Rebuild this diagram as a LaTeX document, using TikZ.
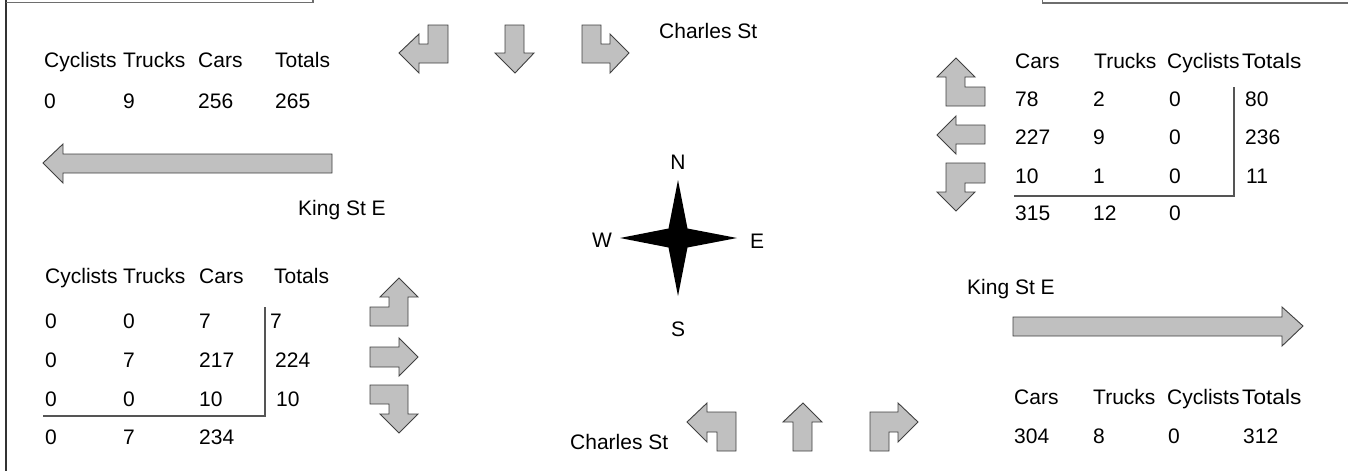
\documentclass[tikz,border=0pt]{standalone}
\usepackage{fontspec}
\setmainfont{Liberation Sans}
\definecolor{arrowgray}{HTML}{C0C0C0}
\definecolor{arrowline}{HTML}{404040}
\definecolor{rulegray}{HTML}{555555}
\definecolor{framegray}{HTML}{6E6E6E}
\definecolor{framedark}{HTML}{333333}
\newcommand{\widetotals}{\scalebox{1.08}[1]{Totals}}
\begin{document}
\begin{tikzpicture}[x=1pt,y=-1pt,
  lbl/.style={anchor=base west,inner sep=0pt,font=\fontsize{21}{25}\selectfont},
  compasslbl/.style={anchor=center,inner sep=0pt,font=\fontsize{21}{25}\selectfont},
  flowarrow/.style={fill=arrowgray,draw=arrowline,line width=0.9pt,line join=miter},
  tablerule/.style={draw=rulegray,line width=1.3pt},
  framerule/.style={draw=framegray,line width=1.5pt}]
\useasboundingbox (0,0) rectangle (1348,471);

% frame pieces
\draw[draw=framedark,line width=2pt] (5.7,0) -- (5.7,471);
\draw[framerule] (5.7,2.5) -- (313,2.5) -- (313,0);
\draw[framerule] (1042.5,0) -- (1042.5,3) -- (1348,3);

% street names
\node[lbl] (charlesN) at (659,38) {Charles St};
\node[lbl] (charlesS) at (570,449) {Charles St};
\node[lbl] (kingW) at (298,215) {King St E};
\node[lbl] (kingE) at (967,294) {King St E};

% north approach: turning movements (southbound)
\draw[flowarrow] (428,25) -- (448,25) -- (448,63) -- (419,63) -- (419,73) -- (399,53) -- (419,34) -- (419,44) -- (428,44) -- cycle;
\draw[flowarrow] (505,25) -- (524,25) -- (524,53) -- (534,53) -- (515,73) -- (495,53) -- (505,53) -- cycle;
\draw[flowarrow] (582,25) -- (601,25) -- (601,44) -- (610,44) -- (610,34) -- (629,53) -- (610,73) -- (610,63) -- (582,63) -- cycle;

% north-west counts
\node[lbl] (nwh1) at (44,67) {Cyclists};
\node[lbl] (nwh2) at (123,67) {Trucks};
\node[lbl] (nwh3) at (198,67) {Cars};
\node[lbl] (nwh4) at (275,67) {Totals};
\node[lbl] (nwd1) at (44,108) {0};
\node[lbl] (nwd2) at (123,108) {9};
\node[lbl] (nwd3) at (198,108) {256};
\node[lbl] (nwd4) at (275,108) {265};

% westbound through flow
\draw[flowarrow] (43,163) -- (63,144) -- (63,154) -- (332,154) -- (332,173) -- (63,173) -- (63,183) -- cycle;

% east approach: turning movements (westbound)
\draw[flowarrow] (956,58) -- (975,77) -- (965,77) -- (965,87) -- (985,87) -- (985,106) -- (946,106) -- (946,77) -- (937,77) -- cycle;
\draw[flowarrow] (937,135) -- (956,116) -- (956,125) -- (985,125) -- (985,144) -- (956,144) -- (956,154) -- cycle;
\draw[flowarrow] (946,163) -- (985,163) -- (985,183) -- (965,183) -- (965,192) -- (975,192) -- (956,211) -- (937,192) -- (946,192) -- cycle;

% east approach counts
\node[lbl] (eh1) at (1015,68) {Cars};
\node[lbl] (eh2) at (1094,68) {Trucks};
\node[lbl] (eh3) at (1167,68) {Cyclists};
\node[lbl] (eh4) at (1242,68) {\widetotals};
\node[lbl] (e11) at (1015,106) {78};
\node[lbl] (e12) at (1093,106) {2};
\node[lbl] (e13) at (1169,106) {0};
\node[lbl] (e14) at (1245,106) {80};
\node[lbl] (e21) at (1015,144) {227};
\node[lbl] (e22) at (1093,144) {9};
\node[lbl] (e23) at (1169,144) {0};
\node[lbl] (e24) at (1245,144) {236};
\node[lbl] (e31) at (1015,183) {10};
\node[lbl] (e32) at (1093,183) {1};
\node[lbl] (e33) at (1169,183) {0};
\node[lbl] (e34) at (1246,183) {11};
\node[lbl] (e41) at (1015,220) {315};
\node[lbl] (e42) at (1093,220) {12};
\node[lbl] (e43) at (1169,220) {0};
\coordinate (eTop) at (1234,87);
\coordinate (eCorner) at (1234,196);
\coordinate (eLeft) at (1014,196);
\draw[tablerule] (eTop) -- (eCorner) -- (eLeft);

% compass rose
\fill (678,180) -- (687.5,228.5) -- (737,238) -- (687.5,247.5) -- (678,296) -- (668.5,247.5) -- (620,238) -- (668.5,228.5) -- cycle;
\node[compasslbl] (north) at (678,162) {N};
\node[compasslbl] (west) at (602,240) {W};
\node[compasslbl] (east) at (757,241.5) {E};
\node[compasslbl] (south) at (678,329) {S};

% west approach counts
\node[lbl] (wh1) at (45,283) {Cyclists};
\node[lbl] (wh2) at (123,283) {Trucks};
\node[lbl] (wh3) at (199,283) {Cars};
\node[lbl] (wh4) at (274,283) {Totals};
\node[lbl] (w11) at (45,328) {0};
\node[lbl] (w12) at (123,328) {0};
\node[lbl] (w13) at (199,328) {7};
\node[lbl] (w14) at (270,328) {7};
\node[lbl] (w21) at (45,367) {0};
\node[lbl] (w22) at (123,367) {7};
\node[lbl] (w23) at (199,367) {217};
\node[lbl] (w24) at (275,367) {224};
\node[lbl] (w31) at (45,406) {0};
\node[lbl] (w32) at (123,406) {0};
\node[lbl] (w33) at (199,406) {10};
\node[lbl] (w34) at (276,406) {10};
\node[lbl] (w41) at (45,444) {0};
\node[lbl] (w42) at (123,444) {7};
\node[lbl] (w43) at (199,444) {234};
\coordinate (wTop) at (265,307);
\coordinate (wCorner) at (265,416);
\coordinate (wLeft) at (43,416);
\draw[tablerule] (wTop) -- (wCorner) -- (wLeft);

% west approach: turning movements (eastbound)
\draw[flowarrow] (399,278) -- (418,297) -- (408,297) -- (408,326) -- (370,326) -- (370,307) -- (389,307) -- (389,297) -- (380,297) -- cycle;
\draw[flowarrow] (370,347) -- (399,347) -- (399,338) -- (418,357) -- (399,376) -- (399,367) -- (370,367) -- cycle;
\draw[flowarrow] (370,385) -- (408,385) -- (408,414) -- (418,414) -- (399,433) -- (380,414) -- (389,414) -- (389,404) -- (370,404) -- cycle;

% eastbound through flow
\draw[flowarrow] (1013,317) -- (1282,317) -- (1282,307) -- (1303,326) -- (1282,346) -- (1282,336) -- (1013,336) -- cycle;

% south-east counts
\node[lbl] (seh1) at (1014,404) {Cars};
\node[lbl] (seh2) at (1093,404) {Trucks};
\node[lbl] (seh3) at (1167,404) {Cyclists};
\node[lbl] (seh4) at (1242,404) {\widetotals};
\node[lbl] (sed1) at (1014,443) {304};
\node[lbl] (sed2) at (1093,443) {8};
\node[lbl] (sed3) at (1168,443) {0};
\node[lbl] (sed4) at (1243,443) {312};

% south approach: turning movements (northbound)
\draw[flowarrow] (687,422) -- (707,403) -- (707,412) -- (736,412) -- (736,451) -- (717,451) -- (717,432) -- (707,432) -- (707,442) -- cycle;
\draw[flowarrow] (803,403) -- (822,422) -- (812,422) -- (812,451) -- (793,451) -- (793,422) -- (783,422) -- cycle;
\draw[flowarrow] (870,412) -- (898,412) -- (898,403) -- (918,422) -- (898,442) -- (898,432) -- (889,432) -- (889,451) -- (870,451) -- cycle;
\end{tikzpicture}
\end{document}
